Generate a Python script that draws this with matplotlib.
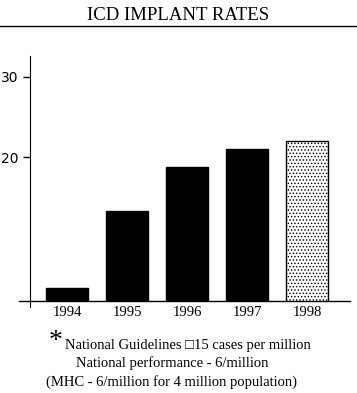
import matplotlib
matplotlib.use('Agg')
import matplotlib.pyplot as plt
from matplotlib.lines import Line2D

years = ['1994', '1995', '1996', '1997', '1998']
rates = [3.8, 13.4, 18.8, 21.1, 22.0]
yticks = [20, 30]
notes = ['National Guidelines \u25a115 cases per million',
         'National performance - 6/million',
         '(MHC - 6/million for 4 million population)']

serif = ['Liberation Serif', 'DejaVu Serif']
plt.rcParams['hatch.linewidth'] = 0.6

fig = plt.figure(figsize=(3.57, 3.93), dpi=100)
W, H = 357, 393
ax = fig.add_axes([19 / W, 1 - 300.7 / H, (350 - 19) / W, (300.7 - 56) / H])

x = list(range(len(years)))
colors = ['black'] * 4 + ['white']
bars = ax.bar(x, rates, width=0.7, bottom=0, color=colors, edgecolor='black', linewidth=1)
bars[-1].set_hatch('.....')

ax.set_xlim(-0.8, 4.717)
ax.set_ylim(2.2, 32.6)
ax.set_xticks(x)
ax.set_xticklabels(years, fontfamily=serif, fontsize=10.5)
ax.tick_params(axis='x', length=0, pad=4)
ax.set_yticks(yticks)
ax.set_yticklabels([str(t) for t in yticks], fontfamily=['Liberation Sans', 'DejaVu Sans'], fontsize=8)
ax.tick_params(axis='y', length=5, width=1, pad=3.5)

for s in ['top', 'right']:
    ax.spines[s].set_visible(False)
ax.spines['left'].set_position(('data', -0.617))
ax.spines['left'].set_bounds(1.4, 32.6)
ax.spines['bottom'].set_linewidth(1)

fig.text(0.5, 1 - 15 / H, 'ICD IMPLANT RATES', ha='center', va='center',
         fontfamily=serif, fontsize=13.5)
fig.add_artist(Line2D([0, 1], [1 - 26 / H, 1 - 26 / H], color='black', lw=1))

fig.text(49 / W, 1 - 341 / H, '*', ha='left', va='center', fontfamily=serif, fontsize=20)
fig.text(188 / W, 1 - 345 / H, notes[0], ha='center', va='center',
         fontfamily=['Liberation Serif', 'DejaVu Sans'], fontsize=10.5)
fig.text(172 / W, 1 - 363 / H, notes[1], ha='center', va='center',
         fontfamily=serif, fontsize=10.5)
fig.text(171 / W, 1 - 382 / H, notes[2], ha='center', va='center',
         fontfamily=serif, fontsize=10.5)

fig.savefig('out.png', dpi=100)
